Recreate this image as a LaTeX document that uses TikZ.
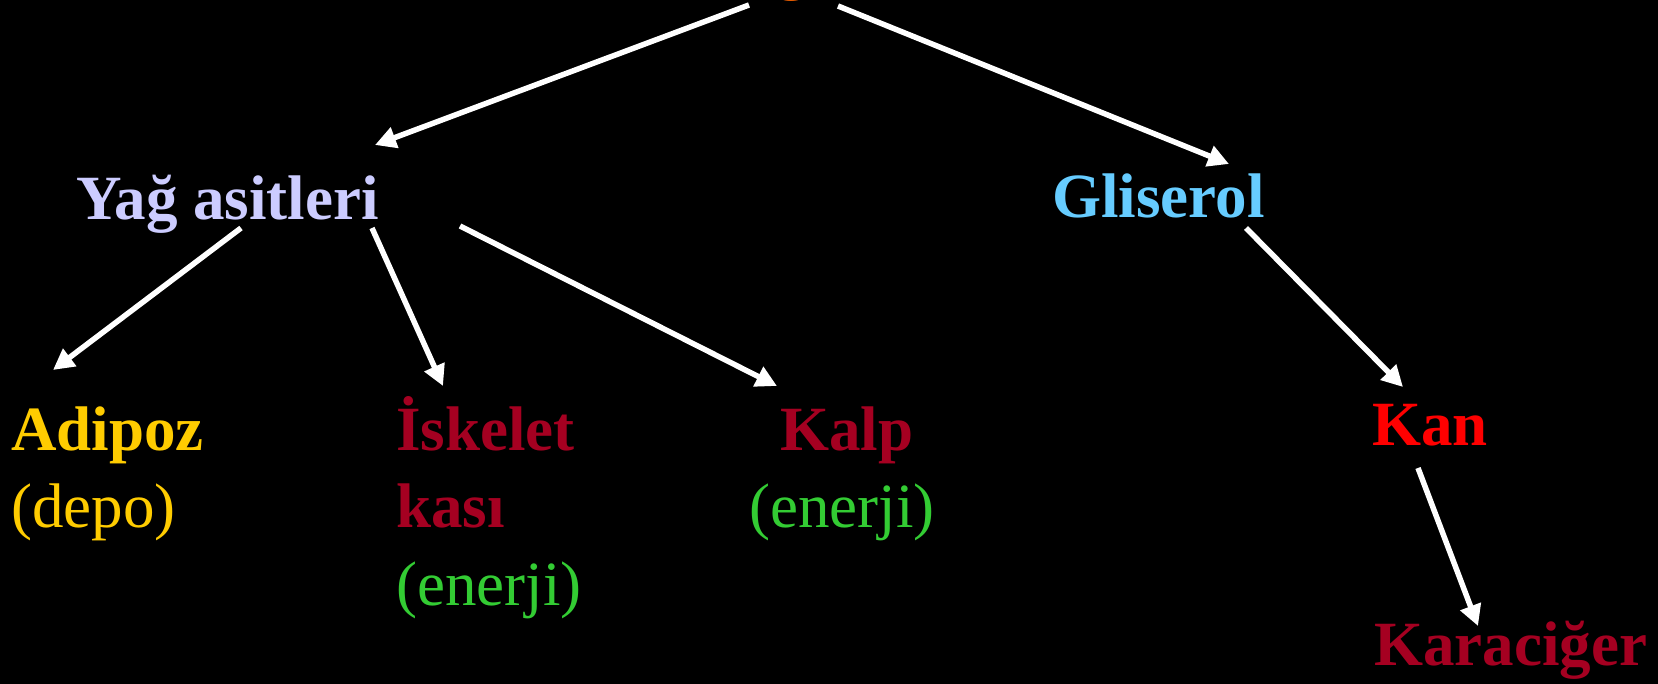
\documentclass[tikz,border=0pt]{standalone}
\usepackage{fontspec}
\setmainfont{Liberation Serif}
\usetikzlibrary{arrows.meta}
\definecolor{lav}{HTML}{CCCCFF}
\definecolor{gli}{HTML}{66CCFF}
\definecolor{adi}{HTML}{FFCC00}
\definecolor{dred}{HTML}{A50021}
\definecolor{kanred}{HTML}{FF0000}
\definecolor{ene}{HTML}{33CC33}
\definecolor{topor}{HTML}{FF6600}
\tikzset{
  lbl/.style={anchor=base west, inner sep=0pt, font=\fontsize{63}{75}\selectfont\bfseries},
  sub/.style={anchor=base west, inner sep=0pt, font=\fontsize{63}{75}\selectfont},
  arr/.style={draw=white, line width=5.5pt, -{Triangle[length=21pt,width=21pt]}}
}
\begin{document}
\begin{tikzpicture}[x=1pt,y=-1pt]
\useasboundingbox (0,0) rectangle (1658,684);
\fill[black] (0,0) rectangle (1658,684);
\clip (0,0) rectangle (1658,684);
% top (cut-off) node
\node[lbl, text=topor] (top) at (776,-12) {g};
% level 1
\node[lbl, text=lav] (yag) at (76,220) {Yağ asitleri};
\node[lbl, text=gli] (gli) at (1052,218) {Gliserol};
% level 2
\node[lbl, text=adi] (adi) at (11,450) {Adipoz};
\node[sub, text=adi] (adisub) at (11,527) {(depo)};
\node[lbl, text=dred] (isk) at (396,450) {İskelet};
\node[lbl, text=dred] (kasi) at (396,527) {kası};
\node[sub, text=ene] (isksub) at (396,605) {(enerji)};
\node[lbl, text=dred] (kalp) at (780,451) {Kalp};
\node[sub, text=ene] (kalpsub) at (749,527) {(enerji)};
\node[lbl, text=kanred] (kan) at (1372,446) {Kan};
\node[lbl, text=dred] (kc) at (1374,665) {Karaciğer};
% arrows
\draw[arr] ([shift={(-27,17)}]top.base west) -- ([shift={(299,-75)}]yag.base west);
\draw[arr] ([shift={(62,18)}]top.base west) -- ([shift={(177,-54)}]gli.base west);
\draw[arr] ([shift={(165,8)}]yag.base west) -- ([shift={(42,-80)}]adi.base west);
\draw[arr] ([shift={(296,8)}]yag.base west) -- ([shift={(47,-64)}]isk.base west);
\draw[arr] ([shift={(384,6)}]yag.base west) -- ([shift={(-3,-65)}]kalp.base west);
\draw[arr] ([shift={(194,10)}]gli.base west) -- ([shift={(31,-59)}]kan.base west);
\draw[arr] ([shift={(46,22)}]kan.base west) -- ([shift={(104,-39)}]kc.base west);
\end{tikzpicture}
\end{document}
